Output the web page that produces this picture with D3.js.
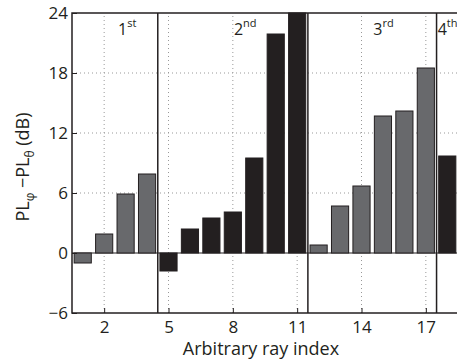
<!DOCTYPE html>
<html>
<head>
<meta charset="utf-8">
<script src="https://cdn.jsdelivr.net/npm/d3@7"></script>
<style>
  body { margin: 0; background: #fff; }
  text, tspan { font-family: "Open Sans", "DejaVu Sans", sans-serif; fill: #231f20; }
</style>
</head>
<body>
<svg id="chart" width="457" height="361"></svg>
<script>
// data
const rayIndex = d3.range(1, 19);
const plDiff = [-1.0, 1.9, 5.9, 7.9, -1.8, 2.4, 3.5, 4.1, 9.5, 21.9, 24.0, 0.8, 4.7, 6.7, 13.7, 14.2, 18.5, 9.7];
const groupOf = [1, 1, 1, 1, 2, 2, 2, 2, 2, 2, 2, 3, 3, 3, 3, 3, 3, 4];
const groupBounds = [4.5, 11.5, 17.5];
const groupLabels = [
  { num: '1', sup: 'st', at: 2.65 },
  { num: '2', sup: 'nd', at: 8.05 },
  { num: '3', sup: 'rd', at: 14.55 },
  { num: '4', sup: 'th', at: 17.55 },
];
const xTicks = [2, 5, 8, 11, 14, 17];
const yTicks = [-6, 0, 6, 12, 18, 24];

const margin = { left: 72, top: 13, right: -1, bottom: 48 };
const width = 457, height = 361;
const svg = d3.select('#chart');

const x = d3.scaleLinear().domain([0.5, 18.5]).range([margin.left, width - margin.right]);
const y = d3.scaleLinear().domain([-6, 24]).range([height - margin.bottom, margin.top]);
const barW = (x(1) - x(0)) * 0.8;
const gray = '#68696c', black = '#231f20';

// grid
const grid = svg.append('g');
grid.selectAll('.vgrid').data(xTicks).join('line')
  .attr('x1', d => x(d)).attr('x2', d => x(d))
  .attr('y1', y(-6)).attr('y2', y(24))
  .attr('stroke', '#999').attr('stroke-width', 1).attr('stroke-dasharray', '1,3');
grid.selectAll('.hgrid').data(yTicks.filter(d => d > -6 && d < 24 && d !== 0)).join('line')
  .attr('x1', x(0.5)).attr('x2', x(18.5))
  .attr('y1', d => y(d)).attr('y2', d => y(d))
  .attr('stroke', '#999').attr('stroke-width', 1).attr('stroke-dasharray', '1,3');

// zero line
svg.append('line')
  .attr('x1', x(0.5)).attr('x2', x(18.5)).attr('y1', y(0)).attr('y2', y(0))
  .attr('stroke', '#231f20').attr('stroke-width', 1);

// bars
svg.append('g').selectAll('rect').data(rayIndex).join('rect')
  .attr('x', d => x(d) - barW / 2)
  .attr('width', barW)
  .attr('y', (d, i) => y(Math.max(0, plDiff[i])))
  .attr('height', (d, i) => Math.abs(y(plDiff[i]) - y(0)))
  .attr('fill', (d, i) => (groupOf[i] % 2 ? gray : black))
  .attr('stroke', '#231f20').attr('stroke-width', 1);

// group separators
svg.append('g').selectAll('line').data(groupBounds).join('line')
  .attr('x1', d => x(d)).attr('x2', d => x(d))
  .attr('y1', y(-6)).attr('y2', y(24))
  .attr('stroke', '#231f20').attr('stroke-width', 1.5);

// frame
svg.append('rect')
  .attr('x', x(0.5)).attr('y', y(24))
  .attr('width', x(18.5) - x(0.5)).attr('height', y(-6) - y(24))
  .attr('fill', 'none').attr('stroke', '#231f20').attr('stroke-width', 1.5);

// axes
const xAxis = svg.append('g').attr('transform', `translate(0,${y(-6)})`)
  .call(d3.axisBottom(x).tickValues(xTicks).tickSize(-5).tickPadding(8));
const yAxis = svg.append('g').attr('transform', `translate(${x(0.5)},0)`)
  .call(d3.axisLeft(y).tickValues(yTicks).tickSize(-5).tickPadding(4)
    .tickFormat(d => (d < 0 ? '\u2212' + Math.abs(d) : d)));
[xAxis, yAxis].forEach(a => {
  a.select('.domain').remove();
  a.selectAll('.tick line').attr('stroke', '#231f20');
  a.selectAll('.tick text').attr('font-size', 17).attr('fill', '#231f20');
});

// group labels
const gl = svg.append('g').selectAll('text').data(groupLabels).join('text')
  .attr('x', d => x(d.at)).attr('y', 35).attr('font-size', 16).attr('fill', '#231f20');
gl.append('tspan').text(d => d.num);
gl.append('tspan').attr('dy', -8).attr('font-size', 11).attr('fill', '#231f20').text(d => d.sup);

// axis titles
svg.append('text')
  .attr('x', 261).attr('y', 355).attr('text-anchor', 'middle')
  .attr('font-size', 18).text('Arbitrary ray index');

const yl = svg.append('text')
  .attr('transform', 'translate(29,167) rotate(-90)')
  .attr('text-anchor', 'middle').attr('font-size', 18);
yl.append('tspan').text('PL');
yl.append('tspan').attr('dy', 5).attr('font-size', 12).text('\u03c6');
yl.append('tspan').attr('dy', -5).text(' \u2212PL');
yl.append('tspan').attr('dy', 5).attr('font-size', 12).text('\u03b8');
yl.append('tspan').attr('dy', -5).text(' (dB)');
</script>
</body>
</html>
